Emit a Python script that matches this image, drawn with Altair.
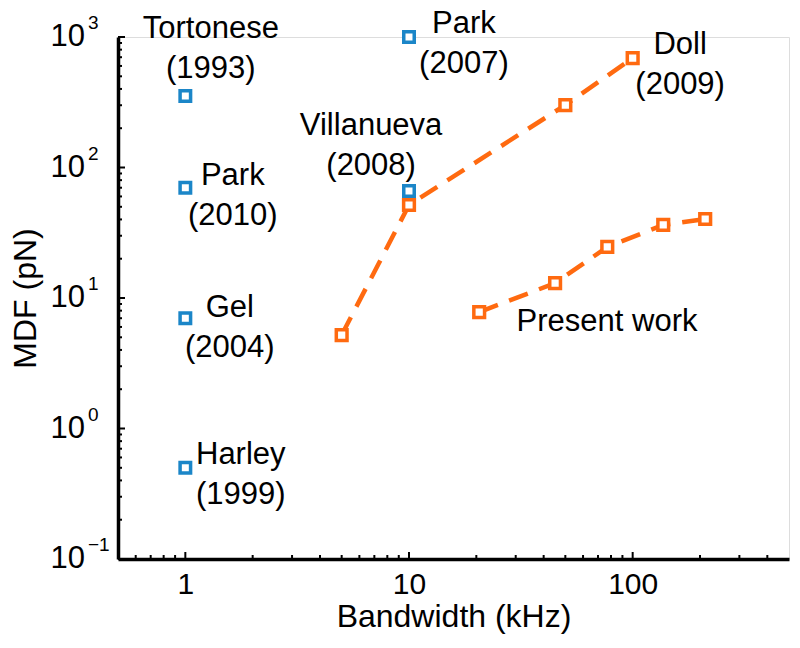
import altair as alt
import pandas as pd

FONT = "Liberation Sans"
BLUE = "#1b86c8"
ORANGE = "#ff6a10"

# Single reference works (blue squares)
ref_x = [1, 1, 1, 1, 10, 10]
ref_y = [353, 70, 7.0, 0.5, 1000, 66]

# Doll (2009) series
doll_x = [5, 10, 50, 100]
doll_y = [5.2, 51.6, 301, 690]

# Present work series
pw_x = [20.6, 45, 77, 137, 211]
pw_y = [7.8, 13.0, 24.6, 36.3, 40.3]

# Two-line annotations (block centre in data units)
label_text = ["Tortonese\n(1993)", "Park\n(2010)", "Gel\n(2004)", "Harley\n(1999)",
              "Park\n(2007)", "Villanueva\n(2008)", "Doll\n(2009)"]
label_x = [1.30, 1.63, 1.58, 1.77, 17.6, 6.77, 163]
label_y = [809, 60, 5.9, 0.44, 880, 145, 605]

# Single-line annotation
pw_label = ["Present work"]
pw_label_x = [76.8]
pw_label_y = [6.55]

# Axis ticks
x_major = [1, 10, 100]
x_minor = [0.6, 0.7, 0.8, 0.9, 2, 3, 4, 5, 6, 7, 8, 9,
           20, 30, 40, 50, 60, 70, 80, 90, 200, 300, 400]
y_major = [0.1, 1, 10, 100, 1000]
y_exp = ["\u22121", "0", "1", "2", "3"]
y_minor = [m * d for d in [0.1, 1, 10, 100] for m in range(2, 10)]

W, H = 671, 522

xscale = alt.Scale(type="log", domain=[0.5, 500], nice=False)
yscale = alt.Scale(type="log", domain=[0.1, 1000], nice=False)
xaxis = alt.Axis(values=x_major, format="d", ticks=False, tickSize=0, labelPadding=10,
                 labelFontSize=30, labelFont=FONT, labelColor="black",
                 title="Bandwidth (kHz)", titleFontSize=32, titleFont=FONT,
                 titleFontWeight="normal", titleColor="black", titlePadding=2,
                 grid=False, domainColor="black", domainWidth=3.5)
yaxis = alt.Axis(labels=False, ticks=False, tickSize=0, grid=False,
                 title="MDF (pN)", titleFontSize=32, titleFont=FONT,
                 titleFontWeight="normal", titleColor="black", titlePadding=76,
                 domainColor="black", domainWidth=3.5)


def X(f):
    return alt.X(f, type="quantitative", scale=xscale, axis=xaxis)


def Y(f):
    return alt.Y(f, type="quantitative", scale=yscale, axis=yaxis)


ref_df = pd.DataFrame({"x": ref_x, "y": ref_y})
doll_df = pd.DataFrame({"x": doll_x, "y": doll_y})
pw_df = pd.DataFrame({"x": pw_x, "y": pw_y})
lab_df = pd.DataFrame({"x": label_x, "y": label_y, "t": label_text})
pwlab_df = pd.DataFrame({"x": pw_label_x, "y": pw_label_y, "t": pw_label})

ref_pts = alt.Chart(ref_df).mark_point(shape="square", filled=True, fill="white",
                                        stroke=BLUE, strokeWidth=3.5, size=110,
                                        opacity=1).encode(x=X("x"), y=Y("y"))

line_style = dict(color=ORANGE, strokeWidth=4.5, strokeDash=[20, 12])
pt_style = dict(shape="square", filled=True, fill="white", stroke=ORANGE,
                strokeWidth=3.5, size=115, opacity=1)

doll_line = alt.Chart(doll_df).mark_line(**line_style).encode(x=X("x"), y=Y("y"))
doll_pts = alt.Chart(doll_df).mark_point(**pt_style).encode(x=X("x"), y=Y("y"))
pw_line = alt.Chart(pw_df).mark_line(**line_style).encode(x=X("x"), y=Y("y"))
pw_pts = alt.Chart(pw_df).mark_point(**pt_style).encode(x=X("x"), y=Y("y"))

labels = alt.Chart(lab_df).mark_text(font=FONT, fontSize=31, lineBreak="\n",
                                      lineHeight=40, align="center", dy=-20,
                                      baseline="middle", color="black").encode(
    x=X("x"), y=Y("y"), text="t:N")
pw_labels = alt.Chart(pwlab_df).mark_text(font=FONT, fontSize=31, align="center",
                                           baseline="middle", color="black").encode(
    x=X("x"), y=Y("y"), text="t:N")

# inward ticks
xmaj = alt.Chart(pd.DataFrame({"v": x_major})).mark_rule(color="black", strokeWidth=2).encode(
    x=X("v"), y=alt.value(H), y2=alt.value(H - 7))
xmin = alt.Chart(pd.DataFrame({"v": x_minor})).mark_rule(color="black", strokeWidth=2).encode(
    x=X("v"), y=alt.value(H), y2=alt.value(H - 4))
ymaj = alt.Chart(pd.DataFrame({"v": y_major})).mark_rule(color="black", strokeWidth=2).encode(
    y=Y("v"), x=alt.value(0), x2=alt.value(7))
ymin = alt.Chart(pd.DataFrame({"v": y_minor})).mark_rule(color="black", strokeWidth=2).encode(
    y=Y("v"), x=alt.value(0), x2=alt.value(4))

# y tick labels: "10" with superscript exponent
ylab_df = pd.DataFrame({"v": y_major, "e": y_exp})
ylab_base = alt.Chart(ylab_df).mark_text(font=FONT, fontSize=31, align="right",
                                          baseline="middle", color="black").encode(
    y=Y("v"), x=alt.value(-33), text=alt.value("10"))
ylab_exp = alt.Chart(ylab_df).mark_text(font=FONT, fontSize=19, align="left",
                                         baseline="middle", color="black", dy=-14).encode(
    y=Y("v"), x=alt.value(-30), text="e:N")

chart = alt.layer(
    xmin, xmaj, ymin, ymaj, ylab_base, ylab_exp,
    ref_pts, doll_line, pw_line, doll_pts, pw_pts, labels, pw_labels
).properties(
    width=W, height=H,
    autosize=alt.AutoSizeParams(type="none"),
    padding={"left": 110, "top": 29, "right": 3, "bottom": 80},
).configure_view(stroke=None).configure(background="white")

chart.save("out.html", embed_options={"renderer": "svg", "actions": False})
